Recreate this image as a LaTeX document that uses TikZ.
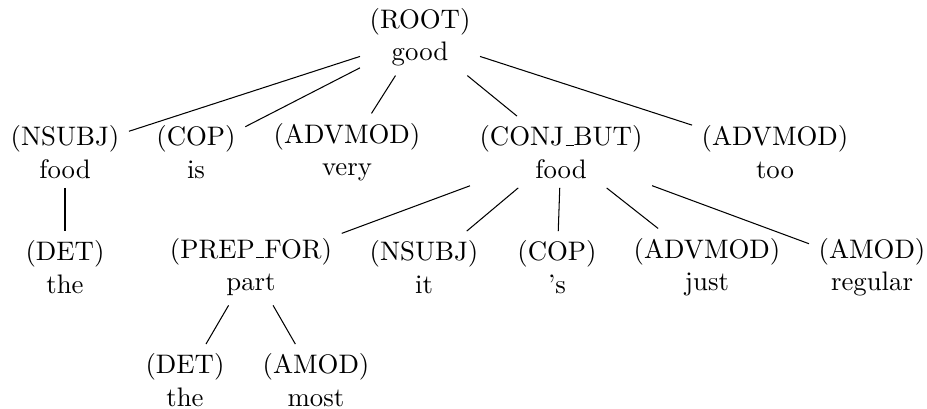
\documentclass[tikz,border=0pt]{standalone}
\newcommand{\usc}{\leavevmode\kern.06em\vbox{\hrule width.3em}}
\begin{document}
\begin{tikzpicture}[x=0.3846pt,y=-0.3846pt,
  tn/.style={align=center,inner sep=3.5pt,font=\fontsize{10.3}{12.4}\selectfont},
  edge/.style={draw=black,line width=0.4pt}]
\useasboundingbox (0,0) rectangle (927,409);
\node[tn] (root) at (420,37) {(ROOT)\\good};
\node[tn] (nsubj) at (65,152) {(NSUBJ)\\food};
\node[tn] (cop) at (196,152) {(COP)\\is};
\node[tn] (adv1) at (347,152) {(ADVMOD)\\very};
\node[tn] (conj) at (561,152) {(CONJ\usc BUT)\\food};
\node[tn] (adv2) at (775,152) {(ADVMOD)\\too};
\node[tn] (det1) at (65,267) {(DET)\\the};
\node[tn] (prep) at (251,267) {(PREP\usc FOR)\\part};
\node[tn] (nsubj2) at (424,267) {(NSUBJ)\\it};
\node[tn] (cop2) at (557,267) {(COP)\\'s};
\node[tn] (adv3) at (707,267) {(ADVMOD)\\just};
\node[tn] (amod1) at (872,267) {(AMOD)\\regular};
\node[tn] (det2) at (185,380) {(DET)\\the};
\node[tn] (amod2) at (316,380) {(AMOD)\\most};
\foreach \c in {nsubj,cop,adv1,conj,adv2} \draw[edge] (root) -- (\c);
\draw[edge] (nsubj) -- (det1);
\foreach \c in {prep,nsubj2,cop2,adv3,amod1} \draw[edge] (conj) -- (\c);
\draw[edge] (prep) -- (det2);
\draw[edge] (prep) -- (amod2);
\end{tikzpicture}
\end{document}
